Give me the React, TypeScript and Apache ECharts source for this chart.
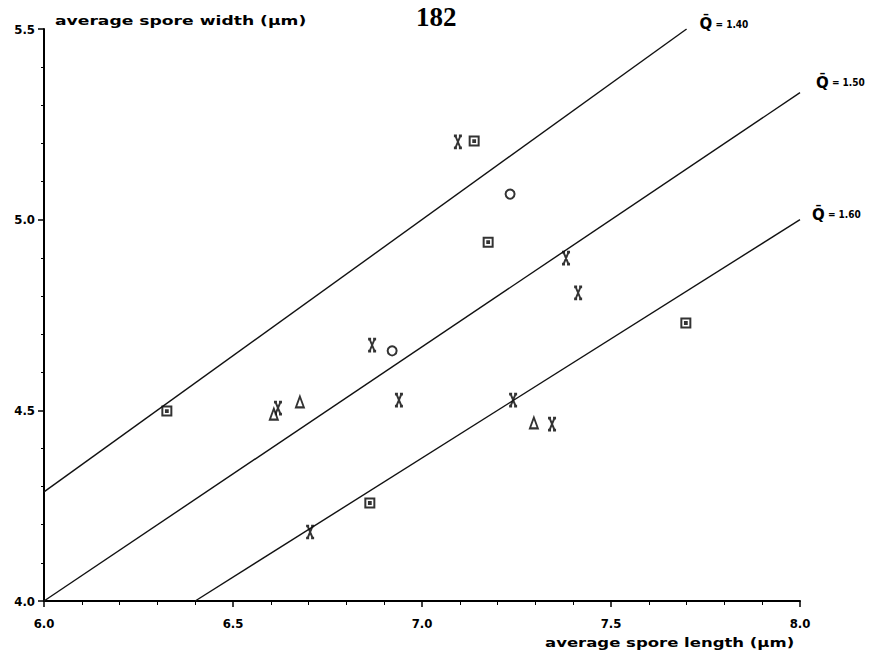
import React, { useEffect, useRef } from "react";
import * as echarts from "echarts";

// average spore length (µm), average spore width (µm)
const crossPts: [number, number][] = [
  [7.095, 5.204],
  [7.381, 4.899],
  [7.413, 4.808],
  [6.868, 4.671],
  [6.619, 4.506],
  [6.939, 4.527],
  [7.241, 4.527],
  [7.344, 4.464],
  [6.704, 4.181],
];
const circlePts: [number, number][] = [
  [7.233, 5.067],
  [6.921, 4.656],
];
const squarePts: [number, number][] = [
  [7.138, 5.206],
  [7.175, 4.941],
  [6.325, 4.498],
  [6.862, 4.257],
  [7.698, 4.729],
];
const trianglePts: [number, number][] = [
  [6.608, 4.49],
  [6.677, 4.522],
  [7.296, 4.467],
];

// iso-Q lines (Q = length / width)
const qLabels = ["1.40", "1.50", "1.60"];
const q140: [number, number][] = [
  [6.0, 4.286],
  [7.7, 5.5],
];
const q150: [number, number][] = [
  [6.0, 4.0],
  [8.0, 5.333],
];
const q160: [number, number][] = [
  [6.4, 4.0],
  [8.0, 5.0],
];

const xTicks = [6.0, 6.5, 7.0, 7.5, 8.0];
const yTicks = [4.0, 4.5, 5.0, 5.5];

const FONT = "'DejaVu Sans Condensed', 'DejaVu Sans', sans-serif";
const WFONT = "'DejaVu Sans', sans-serif";

const CROSS = "path://M0,0H3M5,0H8M0,12H3M5,12H8M1.5,0L6.5,12M6.5,0L1.5,12";
const SQDOT = "path://M0,0H10V10H0ZM4,4H6V6H4Z";

export default function App() {
  const ref = useRef<HTMLDivElement>(null);
  useEffect(() => {
    document.body.style.margin = "0";
    if (!ref.current) return;
    const chart = echarts.init(ref.current, undefined, { renderer: "svg" });

    const qLine = (data: [number, number][], label: string, offset: [number, number]) => ({
      type: "line",
      data,
      symbol: "none",
      silent: true,
      lineStyle: { color: "#111", width: 1.4 },
      endLabel: {
        show: true,
        formatter: () => `{q|Q̄}{n| = ${label}}`,
        distance: 6,
        offset,
        rich: {
          q: { fontFamily: WFONT, fontWeight: "bold", fontSize: 15, color: "#000" },
          n: { fontFamily: FONT, fontSize: 10, fontWeight: "bold", color: "#000" },
        },
      },
    });

    const markerStyle = { color: "#fff", borderColor: "#000", borderWidth: 2 };

    chart.setOption({
      animation: false,
      backgroundColor: "#fff",
      grid: { left: 44, right: 70, top: 29, bottom: 56 },
      xAxis: {
        type: "value",
        min: 6,
        max: 8,
        interval: 0.5,
        axisLine: { show: true, lineStyle: { color: "#000", width: 2 } },
        axisTick: { show: true, length: 6, lineStyle: { color: "#000", width: 1.5 } },
        minorTick: { show: true, splitNumber: 5, length: 4, lineStyle: { color: "#000", width: 1 } },
        splitLine: { show: false },
        axisLabel: {
          formatter: (v: number) => (xTicks.includes(v) ? v.toFixed(1) : ""),
          color: "#000",
          fontFamily: FONT,
          fontWeight: "bold",
          fontSize: 13,
          margin: 16,
        },
      },
      yAxis: {
        type: "value",
        min: 4,
        max: 5.5,
        interval: 0.5,
        axisLine: { show: true, lineStyle: { color: "#000", width: 2 } },
        axisTick: { show: true, length: 6, lineStyle: { color: "#000", width: 1.5 } },
        minorTick: { show: true, splitNumber: 5, length: 3, lineStyle: { color: "#000", width: 1 } },
        splitLine: { show: false },
        axisLabel: {
          formatter: (v: number) => (yTicks.includes(v) ? v.toFixed(1) : ""),
          color: "#000",
          fontFamily: FONT,
          fontWeight: "bold",
          fontSize: 13,
          margin: 9,
        },
      },
      graphic: [
        {
          type: "text",
          x: 55,
          y: 14,
          scaleX: 1.32,
          style: {
            text: "average spore width (µm)",
            font: `bold 13px ${WFONT}`,
            fill: "#000",
          },
        },
        {
          type: "text",
          x: 545,
          y: 636,
          scaleX: 1.27,
          style: {
            text: "average spore length (µm)",
            font: `bold 13px ${WFONT}`,
            fill: "#000",
          },
        },
        {
          type: "text",
          x: 416,
          y: 3,
          style: {
            text: "182",
            font: "bold 27px 'Liberation Serif', 'DejaVu Serif', serif",
            fill: "#000",
          },
        },
      ],
      series: [
        qLine(q140, qLabels[0], [7, -5]),
        qLine(q150, qLabels[1], [10, -10]),
        qLine(q160, qLabels[2], [6, -5]),
        {
          type: "scatter",
          data: crossPts,
          symbol: CROSS,
          symbolSize: [8, 12],
          itemStyle: { color: "transparent", borderColor: "#000", borderWidth: 2.2 },
        },
        {
          type: "scatter",
          data: circlePts,
          symbol: "circle",
          symbolSize: 9,
          itemStyle: markerStyle,
        },
        {
          type: "scatter",
          data: squarePts,
          symbol: SQDOT,
          symbolSize: 9,
          itemStyle: markerStyle,
        },
        {
          type: "scatter",
          data: trianglePts,
          symbol: "triangle",
          symbolSize: [8, 11],
          itemStyle: markerStyle,
        },
      ],
    });
    return () => chart.dispose();
  }, []);
  return <div ref={ref} style={{ width: 870, height: 657 }} />;
}
